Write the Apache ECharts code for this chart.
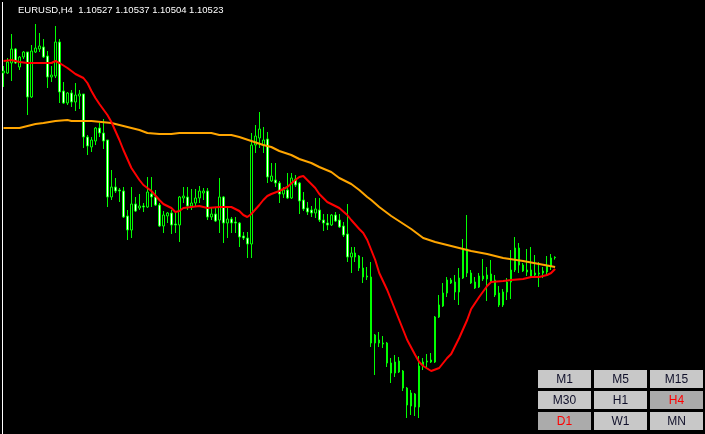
<!DOCTYPE html>
<html><head><meta charset="utf-8">
<script src="https://cdn.jsdelivr.net/npm/echarts@6/dist/echarts.min.js"></script>
<style>html,body{margin:0;padding:0;background:#000;overflow:hidden}#c{width:705px;height:434px}</style>
</head><body><div id="c"></div>
<script>
const symbol = 'EURUSD,H4';
const lastQuote = [1.10527, 1.10537, 1.10504, 1.10523];

const opens = [
1.1237,1.1237,1.1247,1.1261,1.1243,1.1253,1.1258,1.1213,1.1258,1.1261,
1.1263,1.1254,1.1233,1.1234,1.1268,1.1219,1.1207,1.1217,1.1208,1.1214,
1.1216,1.1173,1.1163,1.1169,1.1182,1.1177,1.1170,1.1113,1.1123,1.1120,
1.1119,1.1094,1.1080,1.1106,1.1102,1.1104,1.1103,1.1116,1.1113,1.1105,
1.1084,1.1094,1.1097,1.1086,1.1085,1.1112,1.1113,1.1104,1.1107,1.1112,
1.1117,1.1119,1.1093,1.1096,1.1090,1.1113,1.1087,1.1091,1.1088,1.1087,
1.1074,1.1072,1.1066,1.1165,1.1172,1.1165,1.1171,1.1129,1.1130,1.1127,
1.1116,1.1120,1.1112,1.1131,1.1127,1.1110,1.1102,1.1100,1.1097,1.1100,
1.1090,1.1087,1.1085,1.1095,1.1090,1.1084,1.1076,1.1053,1.1057,1.1054,
1.1042,1.1034,1.1033,1.0967,1.0970,1.0967,1.0967,1.0947,1.0937,1.0949,
1.0939,1.0922,1.0904,1.0916,1.0903,1.0944,1.0948,1.0948,1.0948,1.0993,
1.1004,1.1017,1.1030,1.1028,1.1018,1.1032,1.1061,1.1037,1.1028,1.1023,
1.1034,1.1031,1.1036,1.1030,1.1017,1.1005,1.1018,1.1028,1.1040,1.1062,
1.1045,1.1040,1.1040,1.1035,1.1036,1.1037,1.1038,1.1044,1.10527
];
const closes = [
1.1239,1.1248,1.1261,1.1247,1.1253,1.1258,1.1213,1.1259,1.1262,1.1264,
1.1253,1.1233,1.1235,1.1268,1.1218,1.1207,1.1217,1.1208,1.1215,1.1216,
1.1173,1.1164,1.1170,1.1182,1.1177,1.1169,1.1113,1.1123,1.1119,1.1119,
1.1093,1.1080,1.1106,1.1099,1.1104,1.1103,1.1118,1.1113,1.1105,1.1084,
1.1095,1.1097,1.1085,1.1085,1.1113,1.1114,1.1104,1.1107,1.1112,1.1119,
1.1119,1.1093,1.1096,1.1089,1.1113,1.1087,1.1091,1.1087,1.1087,1.1073,
1.1072,1.1066,1.1165,1.1174,1.1181,1.1170,1.1133,1.1134,1.1127,1.1116,
1.1120,1.1112,1.1132,1.1125,1.1109,1.1101,1.1098,1.1097,1.1101,1.1090,
1.1087,1.1085,1.1095,1.1089,1.1083,1.1075,1.1053,1.1057,1.1053,1.1042,
1.1033,1.1033,1.0967,1.0975,1.0967,1.0966,1.0947,1.0937,1.0948,1.0938,
1.0922,1.0905,1.0917,1.0903,1.0944,1.0948,1.0949,1.0950,1.0993,1.1005,
1.1017,1.1030,1.1027,1.1018,1.1032,1.1061,1.1037,1.1027,1.1022,1.1034,
1.1031,1.1035,1.1029,1.1015,1.1005,1.1018,1.1028,1.1040,1.1062,1.1045,
1.1039,1.1038,1.1033,1.1037,1.1037,1.1039,1.1044,1.1052,1.10523
];
const lows = [
1.1223,1.1236,1.1229,1.1246,1.1240,1.1251,1.1195,1.1212,1.1257,1.1258,
1.1252,1.1222,1.1228,1.1232,1.1207,1.1206,1.1205,1.1203,1.1199,1.1201,
1.1162,1.1155,1.1158,1.1165,1.1173,1.1161,1.1103,1.1110,1.1117,1.1108,
1.1092,1.1070,1.1072,1.1098,1.1100,1.1098,1.1102,1.1103,1.1104,1.1083,
1.1077,1.1087,1.1076,1.1077,1.1068,1.1107,1.1100,1.1100,1.1103,1.1107,
1.1110,1.1090,1.1090,1.1088,1.1077,1.1067,1.1072,1.1077,1.1077,1.1063,
1.1070,1.1052,1.1052,1.1157,1.1162,1.1157,1.1127,1.1128,1.1123,1.1107,
1.1112,1.1111,1.1111,1.1123,1.1096,1.1099,1.1095,1.1093,1.1092,1.1088,
1.1079,1.1080,1.1084,1.1088,1.1082,1.1073,1.1048,1.1037,1.1048,1.1039,
1.1027,1.1030,1.0963,1.0935,1.0963,1.0962,1.0943,1.0927,1.0933,1.0937,
1.0919,1.0892,1.0895,1.0894,1.0892,1.0940,1.0943,1.0947,1.0947,1.0992,
1.1003,1.1013,1.1026,1.1010,1.1005,1.1031,1.1033,1.1026,1.1021,1.1022,
1.1029,1.1009,1.1027,1.1013,1.1003,1.1003,1.1010,1.1011,1.1038,1.1037,
1.1038,1.1034,1.1032,1.1033,1.1023,1.1032,1.1034,1.1040,1.10504
];
const highs = [
1.1244,1.1252,1.1276,1.1262,1.1254,1.1259,1.1258,1.1265,1.1286,1.1277,
1.1271,1.1259,1.1244,1.1284,1.1271,1.1228,1.1218,1.1220,1.1227,1.1220,
1.1216,1.1175,1.1173,1.1183,1.1187,1.1191,1.1170,1.1140,1.1132,1.1122,
1.1123,1.1100,1.1123,1.1113,1.1116,1.1107,1.1133,1.1133,1.1120,1.1107,
1.1099,1.1098,1.1100,1.1097,1.1114,1.1123,1.1123,1.1121,1.1121,1.1124,
1.1122,1.1122,1.1103,1.1103,1.1132,1.1114,1.1103,1.1093,1.1093,1.1088,
1.1078,1.1078,1.1177,1.1185,1.1198,1.1183,1.1178,1.1147,1.1147,1.1129,
1.1123,1.1137,1.1137,1.1135,1.1128,1.1118,1.1108,1.1104,1.1112,1.1112,
1.1096,1.1096,1.1096,1.1098,1.1096,1.1088,1.1106,1.1063,1.1063,1.1055,
1.1053,1.1043,1.1048,1.0976,1.0978,1.0974,1.0968,1.0952,1.0955,1.0953,
1.0940,1.0923,1.0920,1.0917,1.0954,1.0952,1.0956,1.0957,1.0994,1.1015,
1.1027,1.1033,1.1032,1.1035,1.1042,1.1071,1.1095,1.1040,1.1033,1.1037,
1.1051,1.1043,1.1050,1.1035,1.1024,1.1021,1.1032,1.1060,1.1073,1.1067,
1.1047,1.1061,1.1063,1.1055,1.1048,1.1043,1.1054,1.1056,1.10537
];

// fast moving average (red): bar index -> value
const redIdx = [0,2,4,6,9,12,13,14,16,18,20,21,22,23,24,26,27,29,30,32,34,35,37,39,40,41,42,43,44,45,49,51,54,57,59,60,61,62,64,65,66,67,69,71,73,74,75,76,78,79,81,83,84,86,87,89,90,91,93,94,96,98,99,101,103,104,105,107,109,111,112,114,116,117,119,121,122,125,127,130,132,134,136,137,138];
const redVals = [1.1249,1.1250,1.1248,1.1247,1.1247,1.1247,1.1249,1.1247,1.1242,1.1236,1.1232,1.1227,1.1219,1.1212,1.1206,1.1195,1.1188,1.1170,1.1160,1.1142,1.1130,1.1125,1.1119,1.1110,1.1106,1.1104,1.1102,1.1098,1.1099,1.1102,1.1104,1.1102,1.1103,1.1103,1.1099,1.1095,1.1093,1.1096,1.1105,1.1110,1.1114,1.1116,1.1119,1.1123,1.1130,1.1133,1.1134,1.1130,1.1122,1.1116,1.1108,1.1104,1.1102,1.1095,1.1090,1.1081,1.1077,1.1070,1.1050,1.1037,1.1020,1.1000,1.0990,1.0970,1.0955,1.0948,1.0944,1.0939,1.0942,1.0952,1.0956,1.0972,1.0990,1.1001,1.1013,1.1024,1.1028,1.1029,1.1030,1.1031,1.1033,1.1033,1.1035,1.1037,1.1041];

// slow moving average (orange)
const orangeIdx = [0,4,5,8,10,13,16,17,22,27,30,34,36,39,42,44,52,54,57,59,62,65,67,69,72,74,77,79,82,84,87,89,91,92,94,97,102,105,108,111,114,117,121,125,130,134,138];
const orangeVals = [1.1182,1.1182,1.1183,1.1186,1.1187,1.1189,1.1190,1.1189,1.1189,1.1187,1.1184,1.1180,1.1177,1.1176,1.1176,1.1177,1.1177,1.1175,1.1175,1.1173,1.1169,1.1165,1.1163,1.1159,1.1155,1.1151,1.1147,1.1143,1.1138,1.1132,1.1126,1.1120,1.1113,1.1110,1.1103,1.1094,1.1081,1.1072,1.1068,1.1065,1.1062,1.1059,1.1056,1.1052,1.1049,1.1046,1.1043];

const periods = ['M1','M5','M15','M30','H1','H4','D1','W1','MN'];
const activePeriods = ['H4','D1'];

const slots = 176; // visible bar slots incl. empty right margin
const categories = [];
for (let i = 0; i < slots; i++) categories.push(String(i));
const candles = opens.map((o, i) => [o, closes[i], lows[i], highs[i]]);
const redLine = redIdx.map((x, k) => [x, redVals[k]]);
const orangeLine = orangeIdx.map((x, k) => [x, orangeVals[k]]);

const graphics = [];
graphics.push({type:'line', silent:true, shape:{x1:2.5, y1:2, x2:2.5, y2:434}, style:{stroke:'#ffffff', lineWidth:1}});
graphics.push({type:'text', silent:true, left:18, top:5,
  style:{text: symbol + '  ' + lastQuote.map(v => v.toFixed(5)).join(' '), fill:'#ffffff', font:'9.5px "Liberation Sans", Arial, sans-serif'}});
periods.forEach((p, k) => {
  const col = k % 3, row = Math.floor(k / 3);
  const x = 538 + col * 56, y = 370 + row * 21;
  const act = activePeriods.indexOf(p) >= 0;
  graphics.push({type:'rect', silent:true, shape:{x:x, y:y, width:53, height:18}, style:{fill: act ? '#ababab' : '#c8c8c8'}});
  graphics.push({type:'text', silent:true, x:x + 26.5, y:y + 9.5,
    style:{text:p, align:'center', verticalAlign:'middle', textAlign:'center', textVerticalAlign:'middle',
      fill: act ? '#ff0000' : '#10102a', font:'12px "Liberation Sans", Arial, sans-serif'}});
});

const chart = echarts.init(document.getElementById('c'), null, {renderer:'canvas'});
chart.setOption({
  backgroundColor:'#000000',
  animation:false,
  grid:{left:1.5, right:-0.5, top:0, bottom:0},
  xAxis:[
    {type:'category', data:categories, show:false, boundaryGap:true},
    {type:'value', min:-0.5, max:slots - 0.5, show:false}
  ],
  yAxis:{type:'value', min:1.0876, max:1.1310, show:false, scale:true},
  series:[
    {type:'candlestick', data:candles, barWidth:2, barMinWidth:2, barMaxWidth:2, silent:true,
      itemStyle:{color:'#000000', color0:'#ffffff', borderColor:'#00ff00', borderColor0:'#00ff00', borderColorDoji:'#00ff00', borderWidth:1}},
    {type:'line', xAxisIndex:1, data:orangeLine, symbol:'none', silent:true, lineStyle:{color:'#ffa500', width:2}},
    {type:'line', xAxisIndex:1, data:redLine, symbol:'none', silent:true, lineStyle:{color:'#ff0000', width:2}}
  ],
  graphic:graphics
});
</script>
</body></html>
